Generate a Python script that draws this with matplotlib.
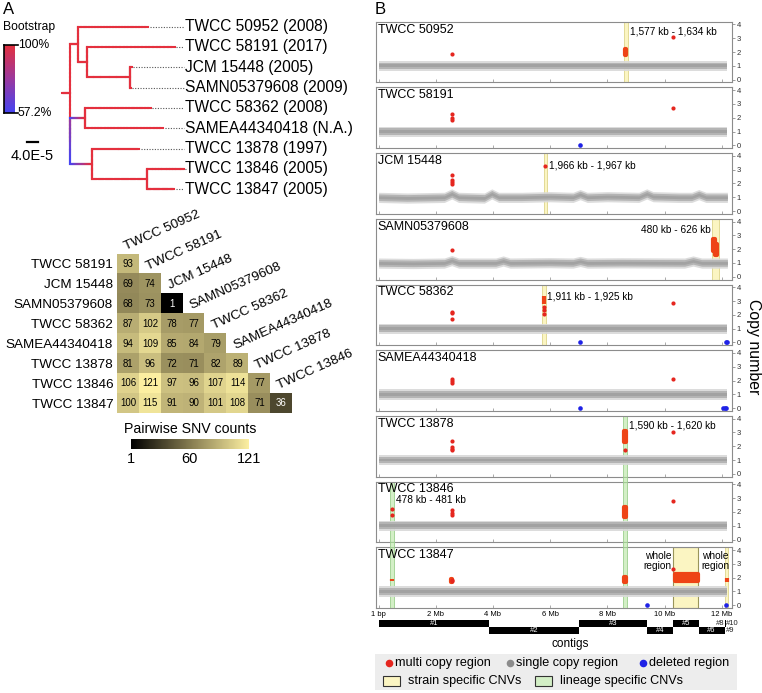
import numpy as np
import matplotlib
matplotlib.use('Agg')
import matplotlib.pyplot as plt
from matplotlib import colors
from matplotlib import cm
from matplotlib.collections import LineCollection
from matplotlib.patches import Rectangle
from matplotlib.transforms import blended_transform_factory

plt.rcParams['font.family'] = ['Liberation Sans', 'DejaVu Sans']

# ---- panel A: tree (branch lengths in 1e-5 subst/site, bootstrap %) ----
tree = (0.0, 100, [
    (2.65, 100, [
        ('TWCC 50952 (2008)', 24.3),
        (3.3, 100, [
            ('TWCC 58191 (2017)', 30.2),
            (14.7, 100, [('JCM 15448 (2005)', 0.6), ('SAMN05379608 (2009)', 0.25)]),
        ]),
    ]),
    (0.0, 57.2, [
        (5.2, 100, [('TWCC 58362 (2008)', 22.6), ('SAMEA44340418 (N.A.)', 27.0)]),
        (7.5, 100, [
            ('TWCC 13878 (1997)', 16.4),
            (19.0, 100, [('TWCC 13846 (2005)', 12.9), ('TWCC 13847 (2005)', 9.4)]),
        ]),
    ]),
])
boot_min, boot_max = 57.2, 100
scale_len = 4.0  # 4.0E-5

# ---- panel A: pairwise SNV counts ----
snv_rows = ['TWCC 58191', 'JCM 15448', 'SAMN05379608', 'TWCC 58362',
            'SAMEA44340418', 'TWCC 13878', 'TWCC 13846', 'TWCC 13847']
snv_cols = ['TWCC 50952', 'TWCC 58191', 'JCM 15448', 'SAMN05379608',
            'TWCC 58362', 'SAMEA44340418', 'TWCC 13878', 'TWCC 13846']
snv_counts = [[93],
              [69, 74],
              [68, 73, 1],
              [87, 102, 78, 77],
              [94, 109, 85, 84, 79],
              [81, 96, 72, 71, 82, 89],
              [106, 121, 97, 96, 107, 114, 77],
              [100, 115, 91, 90, 101, 108, 71, 36]]
snv_ticks = [1, 60, 121]

# ---- panel B: copy number along genome (Mb) ----
samples = ['TWCC 50952', 'TWCC 58191', 'JCM 15448', 'SAMN05379608', 'TWCC 58362',
           'SAMEA44340418', 'TWCC 13878', 'TWCC 13846', 'TWCC 13847']
flat_x = [0.0, 12.2]
flat_y = [1.0, 1.0]
jcm_x = [0.0, 1.0, 2.3, 2.56, 2.8, 3.7, 3.96, 4.2, 5.0, 6.0, 6.8, 7.05, 7.3, 8.0,
         9.1, 9.38, 9.6, 10.5, 10.95, 11.2, 11.45, 12.2]
jcm_y = [1.0, 0.95, 1.0, 1.25, 1.0, 0.95, 1.25, 1.0, 1.0, 1.05, 1.0, 1.2, 1.0, 1.05,
         1.0, 1.25, 1.05, 1.0, 1.0, 1.2, 1.0, 1.0]
samn_x = [0.0, 1.2, 2.3, 2.56, 2.8, 4.1, 4.36, 4.6, 6.0, 6.8, 7.05, 7.3, 8.5,
          10.7, 11.0, 11.3, 12.2]
samn_y = [1.0, 0.97, 1.0, 1.18, 1.0, 1.0, 1.15, 1.0, 1.03, 1.0, 1.12, 1.0, 1.02,
          1.0, 1.15, 1.0, 1.0]
single_x = [flat_x, flat_x, jcm_x, samn_x, flat_x, flat_x, flat_x, flat_x, flat_x]
single_y = [flat_y, flat_y, jcm_y, samn_y, flat_y, flat_y, flat_y, flat_y, flat_y]

multi_x = [[2.56, 10.31],
           [2.56, 2.56, 2.56, 10.31],
           [2.56, 2.56, 2.56, 2.56, 5.83],
           [2.56],
           [2.56, 2.56, 2.56, 10.31, 5.78, 5.78, 5.78],
           [2.56, 2.56, 2.56, 10.31],
           [2.56, 2.56, 2.56, 2.56, 10.31, 8.62],
           [0.47, 0.47, 2.56, 2.56, 2.56, 10.31],
           [2.56, 2.56, 10.31]]
multi_y = [[1.85, 3.1],
           [2.25, 1.97, 1.85, 2.7],
           [2.6, 2.25, 2.1, 1.95, 3.25],
           [1.95],
           [2.2, 2.1, 1.7, 2.85, 2.6, 2.35, 2.05],
           [2.1, 1.95, 1.8, 2.1],
           [2.35, 1.92, 1.82, 1.75, 3.05, 1.7],
           [2.2, 1.8, 2.15, 1.9, 1.8, 2.8],
           [1.85, 1.75, 2.6]]
# dense multi copy runs: (start, end, low, high)
multi_runs = [[(8.62, 8.67, 1.75, 2.25)],
              [],
              [],
              [(11.70, 11.76, 1.9, 2.75), (11.76, 11.85, 1.6, 2.35)],
              [(5.77, 5.79, 2.8, 3.4)],
              [],
              [(8.60, 8.64, 2.3, 3.1)],
              [(8.60, 8.64, 1.65, 2.35)],
              [(0.46, 0.48, 1.78, 1.92), (2.55, 2.57, 1.72, 1.88), (8.60, 8.64, 1.65, 2.05),
               (10.36, 11.16, 1.75, 2.25), (12.17, 12.2, 1.7, 1.95)]]
deleted_x = [[], [7.05], [], [], [7.05, 12.15, 12.18], [7.05, 12.05, 12.1, 12.15],
             [], [], [9.4, 12.15]]
strain_cnv = [[(8.58, 8.71)], [], [(5.77, 5.89)], [(11.66, 11.9)], [(5.72, 5.84)],
              [], [], [], [(10.31, 11.18), (12.12, 12.23)]]
cnv_notes = [[(8.8, 3.5, '1,577 kb - 1,634 kb', 'left')],
             [],
             [(5.97, 3.3, '1,966 kb - 1,967 kb', 'left')],
             [(11.62, 3.4, '480 kb - 626 kb', 'right')],
             [(5.9, 3.3, '1,911 kb - 1,925 kb', 'left')],
             [],
             [(8.76, 3.5, '1,590 kb - 1,620 kb', 'left')],
             [(0.6, 2.85, '478 kb - 481 kb', 'left')],
             [(10.25, 3.2, 'whole\nregion', 'right'), (11.3, 3.2, 'whole\nregion', 'left')]]
# lineage specific CNVs, spanning panels first..last
lineage_start = [0.41, 8.56]
lineage_end = [0.53, 8.68]
lineage_first = [7, 6]
lineage_last = [8, 8]

contig_names = ['#1', '#2', '#3', '#4', '#5', '#6', '#7', '#8', '#9', '#10']
contig_start = [0.0, 3.87, 7.02, 9.38, 10.31, 11.21, 12.09, 12.10, 12.11, 12.13]
contig_end = [3.87, 7.02, 9.38, 10.31, 11.21, 12.09, 12.10, 12.11, 12.13, 12.14]
contig_row = [0, 1, 0, 1, 0, 1, 1, 0, 1, 0]
genome_ticks = [0, 2, 4, 6, 8, 10, 12]
genome_labels = ['1 bp', '2 Mb', '4 Mb', '6 Mb', '8 Mb', '10 Mb', '12 Mb']

W, H = 762, 693
fig = plt.figure(figsize=(W / 100, H / 100), dpi=100)


def px_axes(x0, y0, x1, y1):
    return fig.add_axes([x0 / W, 1 - y1 / H, (x1 - x0) / W, (y1 - y0) / H])


def ftext(x, y, s, **kw):
    return fig.text(x / W, 1 - y / H, s, **kw)


RED = '#e5261f'
CLUSTER = '#ee4416'
BLUE = '#1f22e6'
YELLOW = '#fbf5c2'
GREEN = '#d3efc6'

# ================= panel A tree =================
boot_cmap = colors.LinearSegmentedColormap.from_list('boot', ['#4545f3', '#9b399f', '#e4303e'])
boot_norm = colors.Normalize(boot_min, boot_max)

tax = px_axes(0, 0, 380, 235)
px_per_unit = 2.9
tax.set_xlim(-70 / px_per_unit, 310 / px_per_unit)
tax.set_ylim((235 - 26.7) / 20.3, -26.7 / 20.3)
tax.axis('off')
label_x = (185 - 70) / px_per_unit


def grad_line(ax, x0, y0, x1, y1, b0, b1, z, n=24):
    xs = np.linspace(x0, x1, n + 1)
    ys = np.linspace(y0, y1, n + 1)
    segs = np.stack([np.column_stack([xs[:-1], ys[:-1]]),
                     np.column_stack([xs[1:], ys[1:]])], axis=1)
    vals = np.linspace(b0, b1, n)
    ax.add_collection(LineCollection(segs, colors=boot_cmap(boot_norm(vals)),
                                     linewidths=1.5, capstyle='projecting', zorder=z))


tip_count = [0]


def draw_clade(ax, node, x_parent, b_parent, depth):
    if isinstance(node[0], str):
        label, length = node
        x = x_parent + length
        y = tip_count[0]
        tip_count[0] += 1
        grad_line(ax, x_parent, y, x, y, b_parent, 100, 2 + depth * 0.1)
        ax.plot([x + 0.5, label_x - 0.5], [y, y], ls=(0, (1, 1.4)), color='#555555', lw=0.8)
        ax.text(label_x, y, label, va='center', ha='left', fontsize=11.2)
        return y
    length, boot, children = node
    x = x_parent + length
    ys = [draw_clade(ax, c, x, boot, depth + 1) for c in children]
    y = (ys[0] + ys[-1]) / 2
    grad_line(ax, x, ys[0], x, ys[-1], (boot + 100) / 2, boot, 2 + depth * 0.1)
    if length > 0:
        grad_line(ax, x_parent, y, x, y, b_parent, boot, 2 + depth * 0.1)
    return y


root_y = draw_clade(tax, tree, 0.0, 100, 0)
grad_line(tax, -8 / px_per_unit, root_y, 0, root_y, 100, 100, 2)

# bootstrap colour key
bax = px_axes(4, 45, 15, 113)
bax.imshow(np.linspace(boot_min, boot_max, 256)[:, None], cmap=boot_cmap, norm=boot_norm,
           origin='lower', aspect='auto', extent=(0, 1, boot_min, boot_max))
bax.set_xticks([])
bax.set_yticks([])
for s in ['right', 'top', 'bottom']:
    bax.spines[s].set_visible(False)
bax.spines['left'].set_linewidth(1.2)
for yy in [0, 1]:
    bax.plot([0, 1.3], [yy, yy], transform=bax.transAxes, color='k', lw=1.2, clip_on=False)
ftext(3, 27, 'Bootstrap', fontsize=8.7, va='center')
ftext(18, 45, '%g%%' % boot_max, fontsize=8.7, va='center')
ftext(18, 113, '%g%%' % boot_min, fontsize=8.7, va='center')
# scale bar
sx0 = 26.7
tax.plot([(sx0 - 70) / px_per_unit, (sx0 - 70) / px_per_unit + scale_len],
         [(141.7 - 26.7) / 20.3] * 2, color='k', lw=1.6)
ftext(32.5, 156, '4.0E-5', fontsize=10.5, ha='center', va='center')
ftext(3, 10, 'A', fontsize=12, va='center')

# ================= panel A heatmap =================
n = len(snv_rows)
mat = np.full((n, n), np.nan)
for r, row in enumerate(snv_counts):
    mat[r, :len(row)] = row
snv_cmap = colors.LinearSegmentedColormap.from_list('snv', ['#000000', '#857b50', '#fcefa1'])
snv_norm = colors.Normalize(min(snv_ticks), max(snv_ticks))

hax = px_axes(117.3, 254, 292.3, 413.3)
hax.imshow(np.ma.masked_invalid(mat), cmap=snv_cmap, norm=snv_norm, aspect='auto',
           extent=(-0.5, n - 0.5, n - 0.5, -0.5), interpolation='nearest')
for r, row in enumerate(snv_counts):
    for c, v in enumerate(row):
        hax.text(c, r, str(v), ha='center', va='center', fontsize=6.9,
                 color='white' if v < 45 else 'black')
hax.set_xticks([])
hax.set_yticks(range(n))
hax.set_yticklabels(snv_rows, fontsize=9.7)
hax.tick_params(axis='y', length=0, pad=3)
for s in hax.spines.values():
    s.set_visible(False)
for j, name in enumerate(snv_cols):
    hax.text(j - 0.1, j - 0.72, name, rotation=24, rotation_mode='anchor',
             ha='left', va='baseline', fontsize=9.7)

cbax = px_axes(131, 439, 249.3, 449.3)
cb = fig.colorbar(cm.ScalarMappable(norm=snv_norm, cmap=snv_cmap), cax=cbax,
                  orientation='horizontal', ticks=snv_ticks)
cb.outline.set_visible(False)
cb.ax.tick_params(length=0, labelsize=10.5, pad=2)
ftext(190, 429, 'Pairwise SNV counts', fontsize=10.2, ha='center', va='center')

# ================= panel B =================
ftext(375, 10, 'B', fontsize=12, va='center')
x_lo, x_hi = -0.1, 12.35
top0, step, ph = 21.7, 65.7, 60.7
axes = []
for i, name in enumerate(samples):
    top = top0 + i * step
    ax = px_axes(375.7, top, 731.7, top + ph)
    axes.append(ax)
    ax.set_xlim(x_lo, x_hi)
    ax.set_ylim(-0.2, 4.2)
    for a, b in strain_cnv[i]:
        big = (b - a) > 0.5
        ax.axvspan(a, b, facecolor=YELLOW, edgecolor='#99955a' if big else '#ddd48a',
                   lw=0.8 if big else 0.6, zorder=0.5)
    for k in range(len(lineage_start)):
        if lineage_first[k] <= i <= lineage_last[k]:
            ax.axvspan(lineage_start[k], lineage_end[k], facecolor=GREEN,
                       edgecolor='#9ccf8e', lw=0.6, zorder=0.5)
    cx = np.array(single_x[i])
    cy = np.array(single_y[i])
    ax.fill_between(cx, cy - 0.38, cy + 0.36, color='#d9d9d9', lw=0, alpha=0.9, zorder=1)
    ax.fill_between(cx, cy - 0.24, cy + 0.24, color='#b0b0b0', lw=0, alpha=0.9, zorder=1.1)
    ax.fill_between(cx, cy - 0.1, cy + 0.1, color='#a0a0a0', lw=0, alpha=0.9, zorder=1.2)
    for a, b, lo, hi in multi_runs[i]:
        ax.fill_between([a, b], [lo, lo], [hi, hi], facecolor=CLUSTER, edgecolor=CLUSTER,
                        lw=3.0, joinstyle='round', zorder=3)
    ax.scatter(multi_x[i], multi_y[i], s=9, color=RED, lw=0, zorder=4)
    ax.scatter(deleted_x[i], [0] * len(deleted_x[i]), s=11, color=BLUE, lw=0, zorder=4)
    for tx, ty, s, ha in cnv_notes[i]:
        ax.text(tx, ty, s, ha=ha, va='center', fontsize=7.3, linespacing=1.05, zorder=5)
    ax.text(0.006, 0.97, name, transform=ax.transAxes, ha='left', va='top', fontsize=9, zorder=5)
    ax.yaxis.tick_right()
    ax.set_yticks([0, 1, 2, 3, 4])
    ax.set_xticks(genome_ticks)
    ax.tick_params(axis='y', labelsize=5.5, length=2, width=0.5, color='#777777',
                   labelcolor='#333333', pad=1.5)
    ax.tick_params(axis='x', direction='in', length=2, width=0.5, color='#888888',
                   labelsize=5.5, pad=2)
    if i < len(samples) - 1:
        ax.set_xticklabels([])
    else:
        ax.set_xticklabels(genome_labels)
    for s in ax.spines.values():
        s.set_color('#8c8c8c')
        s.set_linewidth(0.8)

# lineage bands continue through the gaps between panels
for k in range(len(lineage_start)):
    for i in range(lineage_first[k], lineage_last[k]):
        trans = blended_transform_factory(axes[i].transData, fig.transFigure)
        y_bot = 1 - (top0 + (i + 1) * step) / H
        y_top = 1 - (top0 + i * step + ph) / H
        fig.add_artist(Rectangle((lineage_start[k], y_bot), lineage_end[k] - lineage_start[k],
                                 y_top - y_bot, transform=trans, facecolor=GREEN,
                                 edgecolor='#9ccf8e', lw=0.6))

ftext(753, 347, 'Copy number', rotation=270, fontsize=11.4, ha='center', va='center')

# contigs
kax = px_axes(375.7, 620.3, 731.7, 634.3)
kax.set_xlim(x_lo, x_hi)
kax.set_ylim(2, 0)
kax.axis('off')
for nm, a, b, r in zip(contig_names, contig_start, contig_end, contig_row):
    kax.barh(r + 0.5, b - a, left=a, height=1.0, color='black', lw=0)
    if b - a > 0.3:
        kax.text((a + b) / 2, r + 0.5, nm, color='white', fontsize=5.5,
                 ha='center', va='center')
kax.text(12.085, 0.5, '#8', fontsize=5.5, ha='right', va='center', color='#222222')
kax.text(12.16, 0.5, '#10', fontsize=5.5, ha='left', va='center', color='#222222')
kax.text(12.16, 1.5, '#9', fontsize=5.5, ha='left', va='center', color='#222222')
ftext(570, 644, 'contigs', fontsize=8.5, ha='center', va='center')

# legend box
lax = px_axes(375, 654, 737, 690)
lax.set_xlim(375, 737)
lax.set_ylim(690, 654)
lax.set_facecolor('#ededed')
lax.set_xticks([])
lax.set_yticks([])
for s in lax.spines.values():
    s.set_visible(False)
for x, c, t in [(389, RED, 'multi copy region'), (510, '#8c8c8c', 'single copy region'),
                (643, BLUE, 'deleted region')]:
    lax.scatter([x], [662.7], s=30, color=c, lw=0)
    lax.text(x + 6, 662.7, t, fontsize=9.1, va='center', ha='left')
for x, c, t in [(383, YELLOW, 'strain specific CNVs'), (535, GREEN, 'lineage specific CNVs')]:
    lax.add_patch(Rectangle((x, 675.5), 17, 10.5, facecolor=c, edgecolor='#333333', lw=0.8))
    lax.text(x + 24.5, 680.5, t, fontsize=9.1, va='center', ha='left')

fig.savefig('out.png', dpi=100)
